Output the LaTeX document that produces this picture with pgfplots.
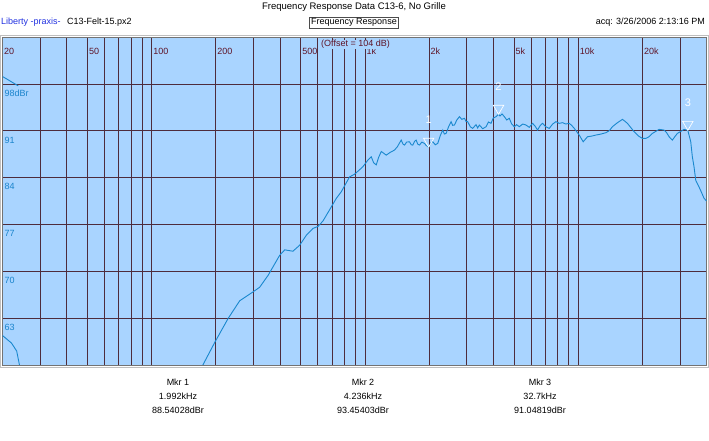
\documentclass[border=0pt]{standalone}
\usepackage{pgfplots}
\pgfplotsset{compat=1.18}
\usepackage{pgfplotstable}
\usepackage{fontspec}
\setmainfont{Liberation Sans}
\definecolor{bgblue}{HTML}{A9D4FF}
\definecolor{gridc}{HTML}{4E2C3C}
\definecolor{curve}{HTML}{1A88CE}
\definecolor{xlab}{HTML}{5E1428}
\definecolor{ylab}{HTML}{1A84CC}
\definecolor{brand}{HTML}{2030E0}

\pgfplotstableread{
f db
20 99.1
23.7 97.7
}\segA
\pgfplotstableread{
f db
20 60.4
22 59.3
23.3 58.1
24.2 55.5
}\segB
\pgfplotstableread{
f db
170 55.5
174 56
198 59.4
228 62.9
259 65.6
289 66.6
321 67.6
352 69.4
399 72.4
421 73.2
440 73.1
460 73.0
495 73.9
532 75.4
571 76.4
603 76.7
636 77.5
684 79.2
735 80.9
776 81.9
848 84.1
895 84.5
978 85.6
1033 86.6
1072 87.1
1100 86.2
1131 85.9
1160 87.0
1194 87.9
1230 87.6
1260 87.35
1320 87.8
1377 88.1
1420 88.6
1481 89.6
1510 89.0
1535 88.85
1570 89.3
1619 89.35
1650 88.9
1678 88.85
1710 89.4
1740 89.6
1770 89.0
1804 88.85
1850 89.3
1904 89.1
1940 88.8
1992 88.54
2040 89.2
2082 89.35
2140 88.9
2197 89.1
2260 90.3
2319 91.1
2360 90.5
2405 90.6
2470 91.6
2538 92.35
2580 91.8
2630 91.85
2700 92.6
2776 93.1
2850 92.7
2930 92.85
2980 92.4
3036 92.35
3120 91.6
3204 91.35
3320 91.9
3380 91.4
3443 91.85
3570 91.3
3702 91.6
3800 92.3
3906 92.1
4000 92.9
4123 93.1
4236 93.45
4300 93.2
4400 93.5
4508 93.1
4630 92.6
4758 92.85
4880 92.0
5022 91.6
5150 91.9
5300 91.6
5500 92.0
5695 91.85
5900 91.5
6115 92.1
6280 91.7
6455 91.1
6650 91.8
6813 92.1
7050 91.6
7322 91.35
7600 92.0
7870 92.35
8150 92.1
8453 92.2
8750 92.0
9086 92.1
9330 91.8
9590 91.35
10120 90.35
10566 89.35
11070 90.1
11600 90.2
12116 90.35
12800 90.5
13494 90.7
14000 91.0
14488 91.6
15300 92.2
16143 92.7
16600 92.4
17034 92.1
18310 90.85
19200 90.2
20024 89.85
20770 89.85
21500 90.1
22300 90.6
23980 91.2
25310 91.1
26000 90.7
26710 90.1
27670 89.6
28400 90.1
29210 90.6
30300 90.9
31400 91.2
32700 91.05
33740 89.35
34330 87.1
35000 85.5
35610 83.6
36900 82.6
38000 81.7
38950 80.9
40000 80.5
}\segC
\pgfplotstableread{
f db lab
1992 88.54 1
4236 93.45 2
32700 91.05 3
}\markers

\begin{document}
\begin{tikzpicture}[font=\fontsize{9}{10.5}\selectfont]
\useasboundingbox (-2.5pt,-76pt) rectangle (706.5pt,365pt);
% outer frame
\draw[black!25, line width=0.8pt] (-1.8pt,-2.8pt) rectangle (705.5pt,329.5pt);
\begin{axis}[
  at={(0pt,0pt)}, anchor=south west,
  scale only axis, width=704pt, height=328pt,
  xmode=log, xmin=20, xmax=40000, ymin=56, ymax=105,
  axis background/.style={fill=bgblue},
  axis line style={draw=black!55, line width=0.8pt},
  major tick length=0pt,
  grid=major, major grid style={draw=gridc, line width=0.6pt},
  log ticks with fixed point,
  xtick={20,30,40,50,60,70,80,90,100,200,300,400,500,600,700,800,900,1000,2000,3000,4000,5000,6000,7000,8000,9000,10000,20000,30000},
  xticklabels={20,,,50,,,,,100,200,,,500,,,,,1k,2k,,,5k,,,,,10k,20k,},
  xticklabel pos=upper,
  xticklabel style={anchor=base west, inner sep=0pt, xshift=1.5pt, yshift=-17.7pt, text=xlab, font=\fontsize{9}{10}\selectfont},
  ytick={63,70,77,84,91,98},
  yticklabels={63,70,77,84,91,98dBr},
  yticklabel style={anchor=base west, inner sep=0pt, xshift=2pt, yshift=-12.3pt, text=ylab, font=\fontsize{9}{10}\selectfont},
]
\addplot[curve, line width=0.9pt] table[x=f,y=db] {\segA};
\addplot[curve, line width=0.9pt] table[x=f,y=db] {\segB};
\addplot[curve, line width=0.9pt] table[x=f,y=db] {\segC};
\addplot[only marks, mark=triangle, mark size=6pt,
  mark options={draw=white, fill=none, line width=0.7pt, yshift=6pt, rotate=180},
  point meta=explicit symbolic, nodes near coords,
  nodes near coords style={text=white, anchor=south, inner sep=0pt, yshift=17pt, font=\fontsize{11}{12}\selectfont}]
  table[x=f,y=db,meta=lab] {\markers};
\end{axis}
\node[fill=bgblue, inner sep=0.6pt, text=xlab, font=\fontsize{9}{10}\selectfont] at (353pt,320.5pt) {(Offset = 104 dB)};
% header
\node[font=\fontsize{9.5}{11}\selectfont] at (351.5pt,358pt) {Frequency Response Data C13-6, No Grille};
\node[anchor=west, text=brand, inner sep=0pt] at (-1.5pt,342.5pt) {Liberty -praxis-};
\node[anchor=west, inner sep=0pt] at (64.5pt,342.5pt) {C13-Felt-15.px2};
\node[draw=black!70, line width=0.6pt, inner sep=1.5pt] at (351.5pt,342.5pt) {Frequency Response};
\node[anchor=east, inner sep=0pt] at (702.5pt,342.5pt) {acq: 3/26/2006 2:13:16 PM};
% marker readouts
\foreach \cx/\a/\b/\c in {175.5/Mkr 1/1.992kHz/88.54028dBr, 360.5/Mkr 2/4.236kHz/93.45403dBr, 537.5/Mkr 3/32.7kHz/91.04819dBr}{
  \node at (\cx pt,-17pt) {\a};
  \node at (\cx pt,-31pt) {\b};
  \node at (\cx pt,-45pt) {\c};
}
\end{tikzpicture}
\end{document}
